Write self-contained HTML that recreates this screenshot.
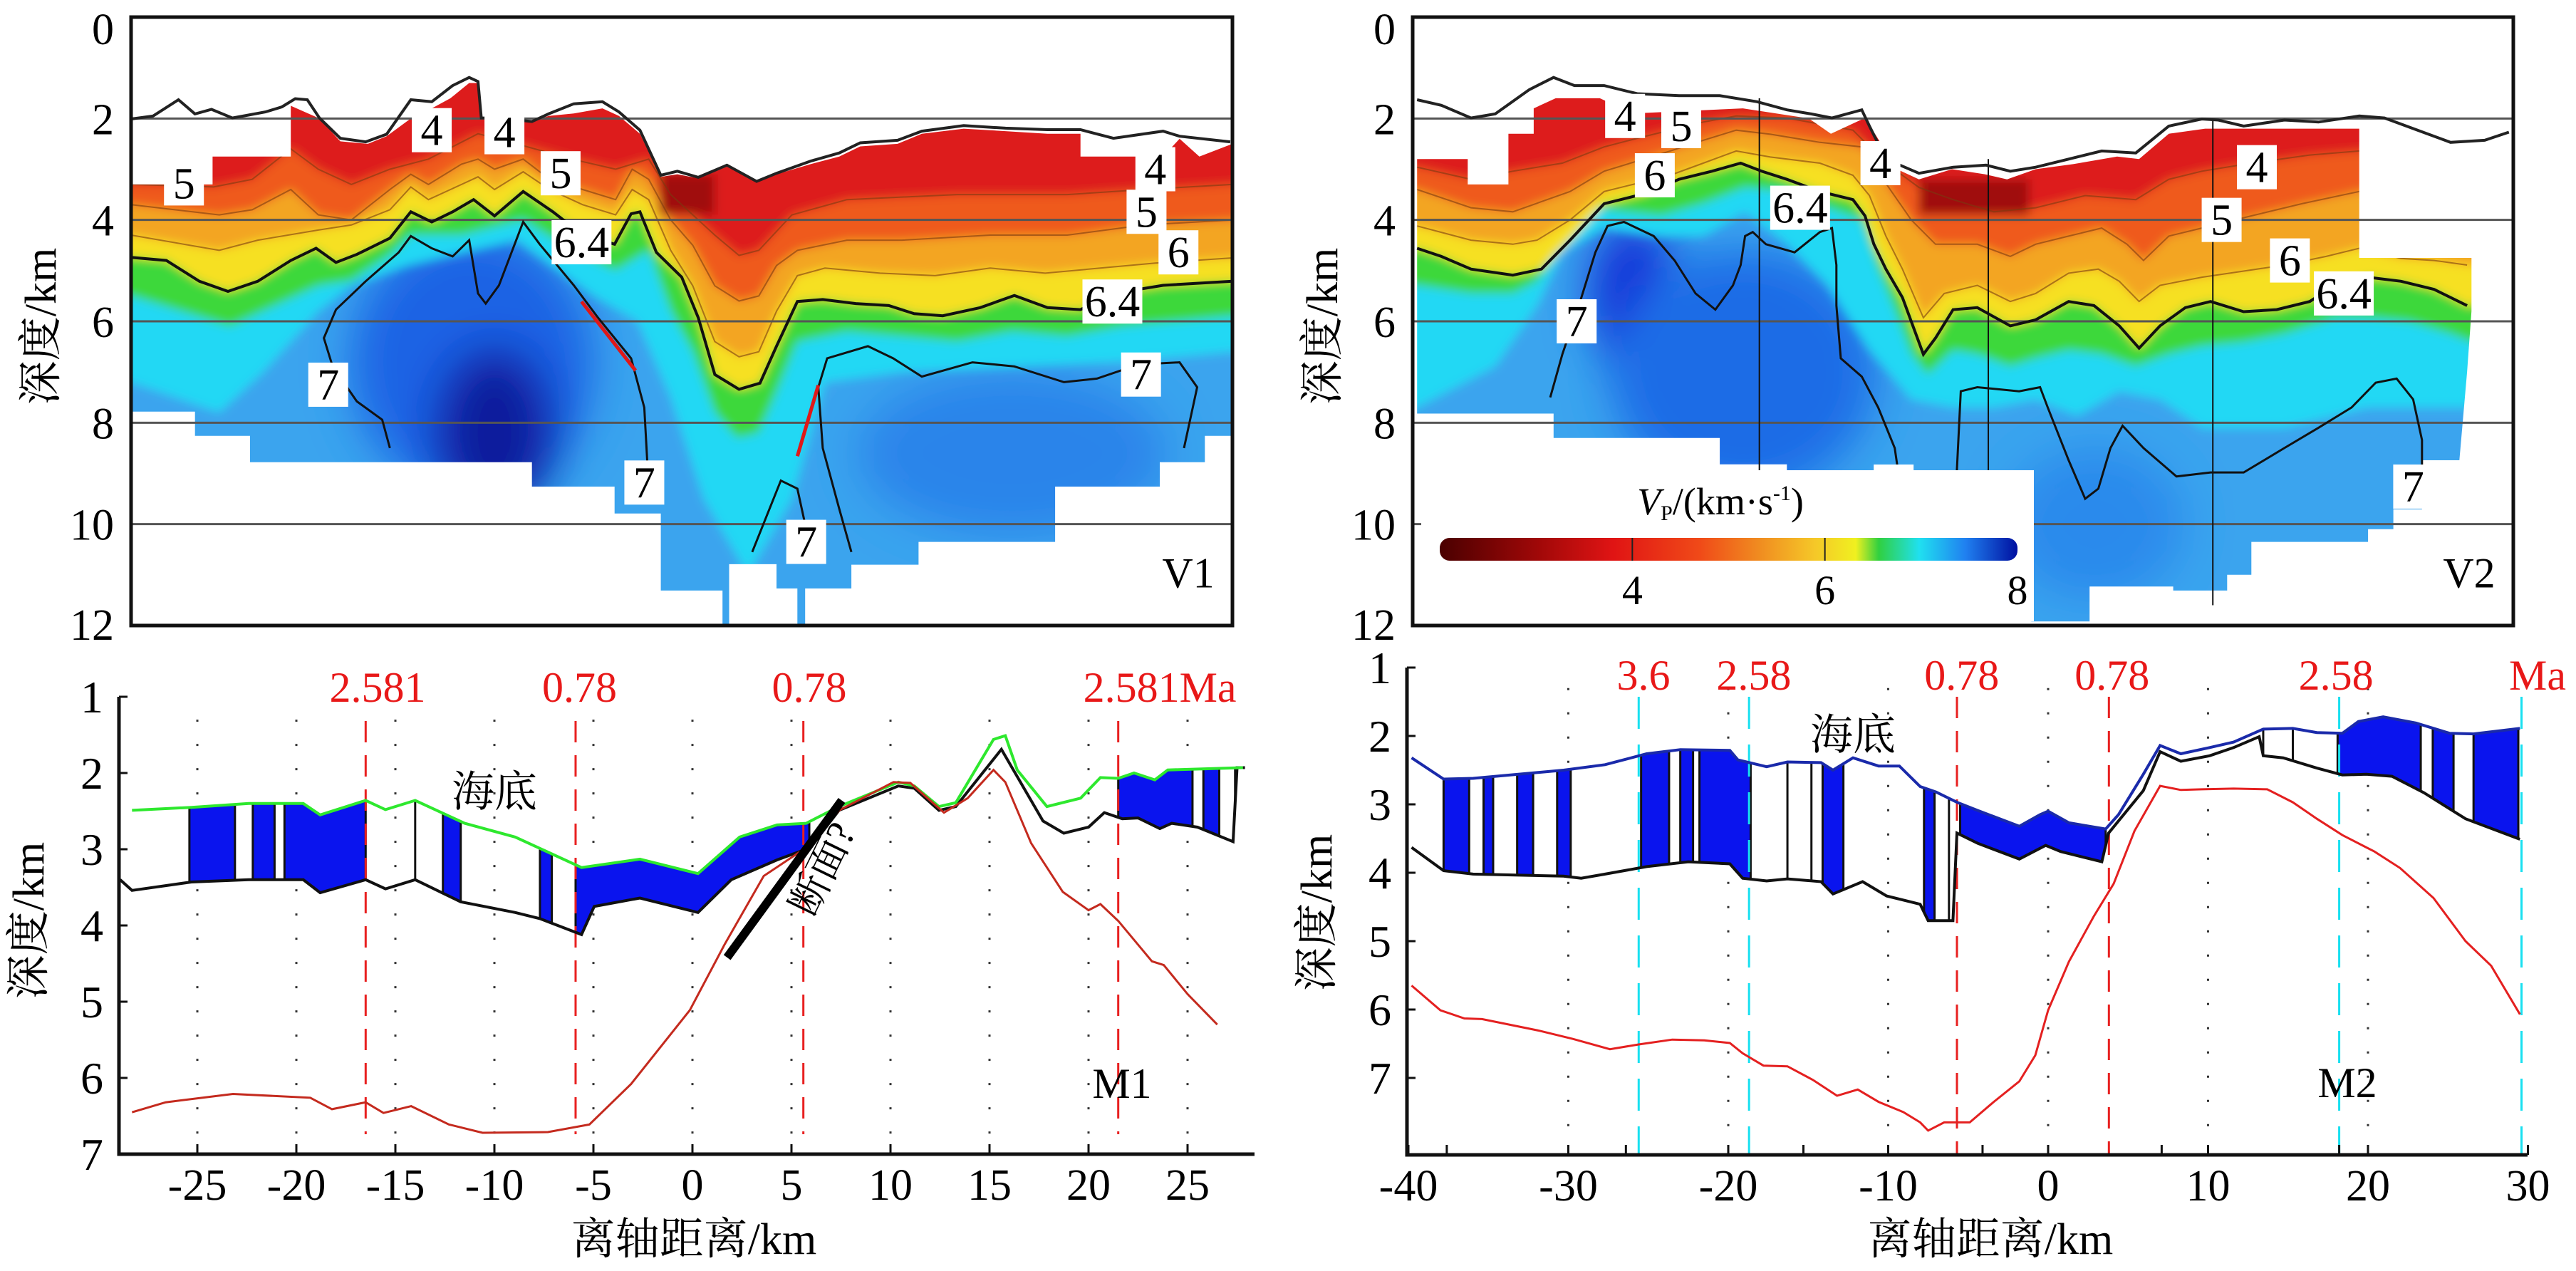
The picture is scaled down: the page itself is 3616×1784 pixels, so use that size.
<!DOCTYPE html>
<html><head><meta charset="utf-8"><style>
html,body{margin:0;padding:0;background:#fff;}
svg{display:block;font-family:"Liberation Serif","Noto Serif CJK SC","Noto Sans CJK SC",serif;}
text{font-family:"Liberation Serif","Noto Serif CJK SC","Noto Sans CJK SC",serif;}
</style></head><body>
<svg id="fig" xmlns="http://www.w3.org/2000/svg" width="3616" height="1784" viewBox="0 0 3616 1784" font-family="Liberation Serif, Noto Serif CJK SC, serif">
<defs>
<linearGradient id="cbar" x1="0" x2="1" y1="0" y2="0">
<stop offset="0" stop-color="#4a0000"/><stop offset="0.17" stop-color="#a00808"/><stop offset="0.3" stop-color="#e01414"/><stop offset="0.45" stop-color="#f04a18"/><stop offset="0.55" stop-color="#f08a20"/><stop offset="0.65" stop-color="#f5c828"/><stop offset="0.72" stop-color="#f0f020"/><stop offset="0.76" stop-color="#30d040"/><stop offset="0.83" stop-color="#20e0f0"/><stop offset="0.91" stop-color="#2080f0"/><stop offset="1" stop-color="#0010a0"/>
</linearGradient>
<filter id="blur" x="-5%" y="-5%" width="110%" height="110%"><feGaussianBlur stdDeviation="7"/></filter>
<filter id="blur2" x="-50%" y="-50%" width="200%" height="200%"><feGaussianBlur stdDeviation="30"/></filter>
</defs>
</svg>
<script>
// ===== V1 data (p = % along profile, d = depth km) =====
const v1FloorP=[0,2,4.3,5.8,7.3,9.2,10.7,12.2,13.7,14.9,16,17.1,19,21.3,23.2,25.4,27.3,29.2,30.7,31.5,31.8,33.4,36.4,37.9,40.2,42.8,44.3,46.2,48.1,49.6,51.5,54.1,56.8,58.6,61.7,64.3,66.2,69.6,71.8,75.6,79.4,83.2,86.2,89.2,93.7,95.2,99.8];
const v1FloorD=[2.01,1.95,1.63,1.91,1.82,1.99,1.93,1.87,1.77,1.61,1.63,1.99,2.39,2.46,2.31,1.63,1.67,1.35,1.19,1.27,1.99,1.99,2.06,1.91,1.71,1.67,1.87,2.23,3.12,3.04,3.16,2.92,3.24,3.08,2.84,2.68,2.48,2.43,2.25,2.14,2.19,2.22,2.22,2.39,2.25,2.35,2.46];
const v1TopP=[0,7.4,7.4,14.5,14.5,17.1,19,21.5,23.2,25.4,27.3,29,30.7,31.5,31.8,33.4,36.4,37.9,40.2,42.8,44.3,46.2,48.1,49.6,51.5,54.1,56.8,58.6,61.7,64.3,66.2,69.6,71.8,75.6,79.4,83.2,86.2,86.2,93.7,95.2,97,100];
const v1TopD=[3.3,3.3,2.75,2.75,1.75,2.0,2.45,2.5,2.35,2.0,1.8,1.6,1.3,1.3,2.0,2.05,2.06,1.95,1.9,1.8,1.95,2.3,3.15,3.1,3.18,2.95,3.25,3.1,2.9,2.75,2.55,2.5,2.3,2.2,2.25,2.3,2.3,2.75,2.75,2.4,2.75,2.5];
const v1BotP=[0,5.8,5.8,10.8,10.8,36.4,36.4,43.9,43.9,48.1,48.1,53.7,53.7,54.3,54.3,58.6,58.6,60.5,60.5,61.2,61.2,65.4,65.4,71.5,71.5,83.9,83.9,93.4,93.4,97.5,97.5,100];
const v1BotD=[7.78,7.78,8.26,8.26,8.78,8.78,9.26,9.26,9.79,9.79,11.31,11.31,12,12,10.79,10.79,11.27,11.27,12,12,11.27,11.27,10.8,10.8,10.35,10.35,9.26,9.26,8.78,8.78,8.26,8.26];
const v1C4P=[0,7.5,11,14.5,17,20,23.5,27,31.5,35,40,44,47,49,53,55.2,57,60,65,75,85,92,100];
const v1C4D=[3.3,3.35,3.2,2.6,3.0,3.3,3.0,2.8,2.3,2.5,2.8,3.0,2.8,3.5,4.3,4.7,4.6,3.9,3.6,3.5,3.5,3.4,3.3];
const v1C5P=[0,8,11,14.5,17,20,23.5,25.4,27,30,31.5,33,35.6,38,41,44,45.5,47,49,51,53,55.2,57,58.6,60.5,65,70,78,85,92,100];
const v1C5D=[3.7,3.9,3.8,3.4,3.9,4.0,3.4,3.1,3.3,2.9,2.8,3.0,2.8,3.2,3.4,3.6,3.0,3.2,4.0,4.5,5.3,5.6,5.5,4.9,4.6,4.4,4.4,4.3,4.3,4.1,4.0];
const v1C6P=[0,8,11.5,17,20,23.5,25.4,27,30,31.5,33,35.6,38,41,44,45.5,47,49,51,53,55.2,57,58.6,60.5,63,68,73,78,83,88,93,100];
const v1C6D=[4.3,4.6,4.4,4.2,4.1,3.8,3.35,3.6,3.3,3.15,3.4,3.05,3.4,3.7,3.9,3.4,3.6,4.6,5.3,6.4,6.7,6.6,5.8,5.1,4.95,5.05,5.1,4.95,5.05,4.95,4.85,4.75];
const v1C64P=[0,3.2,6.2,8.8,11.5,14.5,16.8,18.6,20.5,23.5,25.4,27.3,29.2,31.1,33,35.6,38.3,40.9,43.9,45.4,46.2,47.7,50,51.5,53,55.2,57.1,58.6,60.5,62.8,65.8,68.8,71.1,73.7,77.1,80.2,83.2,86.2,89.2,93.7,100];
const v1C64D=[4.74,4.8,5.21,5.41,5.21,4.8,4.56,4.84,4.68,4.36,3.84,4.04,3.84,3.6,3.92,3.44,3.84,4.28,4.48,3.88,3.84,4.64,5.13,5.93,7.05,7.34,7.22,6.49,5.61,5.57,5.65,5.69,5.85,5.89,5.73,5.49,5.73,5.77,5.45,5.29,5.21];
const v1GP=[0,6,9,12,17,20,23.5,25.4,30,35.6,40,44,47,49,51,53,55,57,58.6,60.5,65,70,75,80,85,90,100];
const v1GD=[5.5,5.9,6.1,5.8,5.3,5.2,4.7,4.3,4.3,4.0,4.6,5.0,4.6,5.8,6.6,7.8,8.3,8.2,7.4,6.4,6.2,6.3,6.4,6.2,6.3,6.1,5.9];
const v1CyP=[0,8,12,17,20,25,35,42,46,49,52,56,60,63,70,80,90,100];
const v1CyD=[7.2,7.8,7.0,5.8,5.3,4.9,4.4,5.5,6.0,7.5,9.5,11,9.5,7.2,7.0,6.9,6.8,6.6];
const v1S7aP=[23.5,22.8,20.5,18.3,17.5,18.6,21.3,24.3,25.4,27.3,29.2,30.7,31.5,32.2,33.4,35.6,37.1,40.2,42.4,45.4,46.6,46.9];
const v1S7aD=[8.5,7.94,7.58,6.89,6.33,5.77,5.21,4.64,4.32,4.56,4.72,4.4,5.45,5.65,5.29,4.04,4.48,5.29,5.93,6.73,7.7,8.9];
const v1S7bP=[56.4,59,60.5,61.7];
const v1S7bD=[10.55,9.14,9.3,10.5];
const v1S7cP=[65.4,64.3,62.8,62.4,63.2,66.9,69.2,71.8,76.4,80.2,84.7,87.7,91.5,95.2,96.8,95.6];
const v1S7cD=[10.55,9.7,8.5,7.3,6.73,6.49,6.73,7.09,6.81,6.89,7.2,7.13,6.85,6.81,7.3,8.5];
const v1LabText=["5","4","4","5","6.4","4","5","6","6.4","7","7","7","7"];
const v1LabP=[4.8,27.3,33.9,39,40.9,93,92.2,95.1,89.1,91.7,17.9,46.6,61.3];
const v1LabD=[3.28,2.23,2.27,3.08,4.44,3.0,3.84,4.64,5.61,7.05,7.25,9.18,10.35];

// ===== V2 data =====
const v2FloorP=[0.4,2.6,5.3,7.5,10.6,12.8,14.7,17.4,20.4,24.2,27.9,31.3,34,36.2,38.1,40.8,41.5,43,46,49.1,52.1,54.3,56.6,59.6,62.6,65.7,68.7,71.7,73.2,75.5,79.2,82.3,86,88.3,91.3,94.3,97.4,99.6];
const v2FloorD=[1.63,1.74,1.99,1.91,1.43,1.19,1.35,1.35,1.51,1.55,1.55,1.67,1.83,1.91,1.99,1.83,2.15,2.8,3.08,2.96,2.92,3.04,2.96,2.8,2.64,2.68,2.15,2.01,2.03,2.15,2.03,2.07,1.95,1.99,2.23,2.47,2.43,2.27];
const v2TopP=[0.4,5,5,8.7,8.7,11,11,13,17,20,30,36,38,41,42,44,46,49,52,54,56.6,60,64,66,68.7,72,80,86,86,95.8];
const v2TopD=[2.8,2.8,3.3,3.3,2.3,2.3,1.8,1.6,1.6,1.9,1.8,2.0,2.3,2.0,2.3,3.0,3.2,3.0,3.1,3.2,3.0,2.9,2.75,2.8,2.3,2.2,2.2,2.2,4.75,4.75];
const v2BotP=[0.4,12.8,12.8,27.9,27.9,34,34,46,46,56.2,56.2,61.5,61.5,69.1,69.1,74,74,76.2,76.2,86.8,86.8,89.1,89.1,91.7,91.7,95.1,95.8,96.2,96.2];
const v2BotD=[7.82,7.82,8.3,8.3,8.82,8.82,9.02,9.02,9.18,9.18,11.92,11.92,11.23,11.23,11.31,11.31,11.0,11.0,10.35,10.35,10.1,10.1,9.71,9.71,8.74,8.74,7.0,5.8,4.75];
const v2C4P=[0.4,5.3,9.1,13.6,17.4,20.4,23.4,26.4,29.4,34,40,43,46,49.1,52.8,56.6,61.1,65.7,68.7,71.7,76.2,81.5,86,96];
const v2C4D=[2.96,3.2,3.04,2.88,2.56,2.39,2.23,2.07,1.95,1.99,2.23,2.88,3.36,3.6,3.84,3.76,3.52,3.6,3.2,3.04,2.88,2.72,2.64,2.6];
const v2C5P=[0.4,5.3,9.1,14.3,17.4,20.4,23.4,26.4,29.4,32.5,37,40.8,43,45.3,47.5,51.3,54.3,56.6,59.6,62.6,64.9,66.4,68.7,71.7,76.2,80.8,86,96];
const v2C5D=[3.4,3.76,3.84,3.44,3.04,2.84,2.64,2.43,2.23,2.31,2.47,2.56,3.28,4.0,4.48,4.48,4.72,4.48,4.32,4.16,4.48,4.8,4.32,4.16,3.92,3.68,3.44,3.4];
const v2C6P=[0.4,5.3,9.1,11.3,14.3,17.4,20.4,23.4,26.4,29.4,32.5,37,40,41.5,43,44.5,46.4,48.3,51.3,54.3,56.6,59.6,62.3,64.2,66,67.9,71.7,75.5,79.2,83,86,89.8,92.8,95.8];
const v2C6D=[4.12,4.4,4.48,4.4,4.0,3.44,3.28,3.12,2.88,2.64,2.76,2.88,3.12,3.52,4.32,4.97,5.93,5.45,5.29,5.61,5.45,5.05,4.97,5.21,5.61,5.29,5.13,5.01,4.89,4.72,4.56,4.76,4.8,4.89];
const v2C64P=[0.4,2.6,5.3,9.1,11.7,14.3,17.4,18.9,21.1,24.2,27.2,29.8,31.7,34,37,40,41.1,41.9,43,44.5,46.4,47.5,49.1,51.3,54.3,56.6,59.6,61.9,64.2,66,67.9,70.2,72.5,75.5,78.5,81.5,83.8,86.8,89.8,92.8,95.8];
const v2C64D=[4.56,4.72,4.97,5.09,4.97,4.4,3.68,3.6,3.48,3.2,3.04,2.88,3.04,3.2,3.44,3.6,3.92,4.48,4.97,5.53,6.65,6.33,5.77,5.73,6.09,5.97,5.61,5.69,6.09,6.53,6.09,5.73,5.61,5.81,5.77,5.61,5.29,5.13,5.21,5.37,5.69];
const v2GP=[0.4,5.3,9.1,11.3,13.6,16.6,18.9,22.6,26.4,30.2,34,37.7,40.8,42.3,43.8,45.3,46.8,49.1,51.3,54.3,56.6,59.6,62.6,65.7,68.7,71.7,75.5,79.2,83.8,86.8,90.6,94.3,96.2];
const v2GD=[5.29,5.45,5.45,5.21,4.48,3.76,3.84,3.92,3.68,3.36,3.44,3.76,4.0,4.97,5.77,6.65,7.05,6.57,6.65,6.89,6.73,6.57,6.65,6.89,6.65,6.49,6.41,6.25,5.93,5.93,6.01,6.25,6.41];
const v2CyP=[0.4,7.5,11.3,13.6,17.4,22.6,26.4,30.2,34,37.7,41.5,45.3,49.1,52.8,56.6,60.4,64.2,67.9,71.7,79.2,86.8,94.3,96.2];
const v2CyD=[7.7,6.89,5.69,4.64,4.16,4.32,4.32,3.84,4.48,5.29,6.57,7.54,7.7,7.7,7.54,7.86,7.38,7.54,8.1,8.1,7.7,7.7,7.7];
const v2S7aP=[12.5,13.6,15.1,16.6,17.7,19.2,21.9,23.8,25.7,27.5,29.1,29.8,30.2,30.9,32.1,34.7,37,38.1,38.5,38.5,38.9,40.8,42.3,43.8,44.2];
const v2S7aD=[7.5,6.65,5.69,4.64,4.12,4.04,4.32,4.8,5.45,5.77,5.29,4.89,4.32,4.24,4.48,4.64,4.24,4.16,4.89,5.69,6.73,7.09,7.7,8.5,9.1];
const v2S7bP=[49.4,49.8,51.3,55.1,57,57.7,59.6,61.1,62.3,63.4,64.5,66.4,69.4,72.5,75.5,79.2,82.3,85.3,87.5,89.4,90.9,91.7,91.7];
const v2S7bD=[9.14,7.38,7.3,7.38,7.3,7.7,8.74,9.5,9.3,8.5,8.06,8.5,9.06,8.98,8.98,8.5,8.1,7.7,7.21,7.13,7.54,8.34,9.54];
const v2LabText=["4","5","6","6.4","4","4","5","6","6.4","7","7","7"];
const v2LabP=[19.3,24.4,22,35.2,42.5,76.7,73.5,79.7,84.6,14.9,43.7,90.9];
const v2LabD=[1.95,2.15,3.12,3.76,2.88,2.96,4.0,4.8,5.45,6.0,9.26,9.26];
const v2CrossP=[31.5,52.3,72.7];
const v2CrossTop=[1.6,2.8,2.0];
const v2CrossBot=[9.1,9.2,11.6];
const cbarTicks=[4,6,8];

// ===== M1 data (km, depth km) =====
const m1FloorX=[-28.3,-25.3,-22.4,-19.65,-18.8,-16.5,-15.5,-14,-11.5,-8.95,-5.6,-2.65,0.28,2.38,4.27,5.74,7.4,10.4,11.2,12.45,13.3,15.2,15.8,16.4,17.9,19.6,20.6,21.5,22.3,23.35,24,27.8];
const m1FloorD=[2.49,2.45,2.4,2.4,2.55,2.36,2.48,2.36,2.66,2.84,3.24,3.13,3.32,2.84,2.68,2.66,2.44,2.12,2.17,2.44,2.39,1.56,1.51,1.96,2.44,2.33,2.06,2.07,2.0,2.09,1.96,1.93];
const m1BaseX=[-28.9,-28.3,-25.3,-22.4,-19.65,-18.8,-16.5,-15.5,-14,-11.7,-8.95,-7.7,-5.6,-4.96,-2.65,0.28,1.96,4.27,5.94,7.4,10.4,11.2,12.45,13.3,15.6,17.7,18.75,20,20.8,21.7,22.5,23.6,24.2,25.5,27.3,27.5,27.9];
const m1BaseD=[3.4,3.54,3.43,3.4,3.4,3.57,3.4,3.52,3.4,3.69,3.83,3.91,4.12,3.75,3.64,3.83,3.4,3.14,2.98,2.49,2.17,2.2,2.49,2.44,1.69,2.63,2.79,2.71,2.52,2.6,2.59,2.73,2.66,2.71,2.9,1.93,1.93];
const m1MohoX=[-28.3,-26.6,-23.2,-19.3,-18.2,-16.5,-15.6,-14.2,-12.3,-10.6,-7.3,-5.2,-3.1,-0.13,1.6,3.6,5.74,7.4,10.15,11,12.7,13.9,15.2,15.8,17.1,18.7,20,20.6,21.5,23.2,23.8,25,26.5];
const m1MohoD=[6.45,6.32,6.21,6.26,6.41,6.32,6.46,6.37,6.61,6.72,6.71,6.61,6.08,5.11,4.26,3.35,2.98,2.49,2.12,2.13,2.52,2.33,1.96,2.12,2.92,3.56,3.8,3.72,3.94,4.47,4.52,4.9,5.3];
const m1BlueA=[-25.4,-22.2,-20.6,-12.6,-7.7,-5.9,21.5,25.8,27.4];
const m1BlueB=[-23.1,-21.1,-16.5,-11.7,-7.1,5.9,25.25,26.6,27.9];
const m1WhiteEdges=[-14.0];
const m1AgeX=[-16.5,-5.9,5.6,21.5];
const m1AgeLab=["2.581","0.78","0.78","2.581Ma"];
const m1AgeLabX=[-15.9,-5.7,5.9,23.6];
const m1XTicks=[-25,-20,-15,-10,-5,0,5,10,15,20,25];
const m1YTicks=[1,2,3,4,5,6,7];
const m1Fault=[[1.75,4.42],[7.54,2.36]];

// ===== M2 data =====
const m2FloorX=[-39.8,-37.8,-35.95,-30.3,-27.7,-25.1,-23,-19.9,-19.4,-17.6,-16.3,-14.2,-13.45,-12.2,-10.6,-9.3,-8,-7,-5.7,-4.4,-1.8,-0.5,0,1.3,3.6,4.4,5.95,7,8.3,10.1,11.6,13.45,15.3,16.8,18.4,19.4,20.95,23,25.1,26.6,29.5];
const m2FloorD=[2.32,2.63,2.62,2.5,2.42,2.26,2.2,2.21,2.35,2.45,2.38,2.39,2.5,2.32,2.44,2.44,2.74,2.82,2.97,3.09,3.32,3.15,3.1,3.27,3.36,3.15,2.56,2.14,2.26,2.17,2.09,1.9,1.89,1.95,1.96,1.79,1.72,1.81,1.96,1.97,1.89];
const m2BaseX=[-39.8,-37.8,-35.95,-30.3,-29.2,-27.7,-25.1,-22.5,-19.9,-19.1,-17.6,-16.3,-14.2,-13.45,-11.6,-10.1,-8,-7.5,-5.95,-5.7,-4.4,-1.8,-0.15,0.78,3.36,3.78,5.95,7,8.3,10.1,11.6,13.2,13.45,14.7,16.8,18.4,19.9,21.5,23.5,26.1,29.5];
const m2BaseD=[3.63,3.97,4.02,4.05,4.08,4.02,3.91,3.84,3.87,4.08,4.12,4.09,4.13,4.31,4.13,4.34,4.46,4.7,4.7,3.42,3.57,3.8,3.6,3.69,3.84,3.42,2.8,2.23,2.37,2.29,2.17,2.01,2.29,2.32,2.47,2.57,2.56,2.59,2.83,3.21,3.51];
const m2MohoX=[-39.8,-38,-36.5,-35.4,-31.8,-29.7,-27.4,-25.6,-23.5,-21.5,-19.9,-19.1,-17.8,-16.3,-14.7,-13.2,-11.9,-10.6,-9.05,-8,-7.5,-6.5,-4.9,-3.4,-1.8,-0.8,0,1.3,2.85,4.1,5.4,7,8.3,9.6,11.6,13.7,15.3,16.8,18.4,19.9,20.4,22,24.1,26.1,27.7,29.5];
const m2MohoD=[5.65,6.01,6.13,6.14,6.31,6.43,6.58,6.51,6.44,6.45,6.49,6.64,6.82,6.83,7.03,7.26,7.17,7.35,7.5,7.65,7.77,7.65,7.65,7.35,7.05,6.67,6.01,5.3,4.64,4.16,3.39,2.73,2.79,2.78,2.77,2.78,2.97,3.21,3.45,3.63,3.69,3.93,4.37,5.0,5.36,6.07];
const m2BlueA=[-37.8,-35.3,-33.2,-30.7,-25.45,-23,-21.8,-14.1,-7.76,-5.5,18.1,24.05,26.6];
const m2BlueB=[-36.2,-34.7,-32.2,-29.85,-23.7,-22.2,-18.6,-12.8,-7.1,3.6,23.3,25.35,29.4];
const m2EdgeX=[-16.3,-14.8,-6.2,15.3,13.45];
const m2AgeX=[-25.6,-18.7,-5.7,3.8,18.2,29.6];
const m2AgeCol=["cyan","cyan","red","red","cyan","cyan"];
const m2AgeLab=["3.6","2.58","0.78","0.78","2.58","Ma"];
const m2AgeLabX=[-25.3,-18.4,-5.4,4.0,18.0,30.6];
const m2XTicks=[-40,-30,-20,-10,0,10,20,30];
const m2MinorTicks=[-37.6,-26.4,-15.3,-4.1,7.1,18.2];
const m2YTicks=[1,2,3,4,5,6,7];

// ===== helpers =====
const NS="http://www.w3.org/2000/svg";
const FONT='Liberation Serif, Noto Serif CJK SC, serif';
const svg=document.getElementById('fig');
function mk(tag,attrs,parent){const e=document.createElementNS(NS,tag);for(const k in attrs)e.setAttribute(k,attrs[k]);if(tag==='text')e.setAttribute('font-family',FONT);(parent||svg).appendChild(e);return e;}
function interp(xs,ys,x){if(x<=xs[0])return ys[0];for(let i=1;i<xs.length;i++){if(x<=xs[i]){const t=(x-xs[i-1])/((xs[i]-xs[i-1])||1);return ys[i-1]+t*(ys[i]-ys[i-1]);}}return ys[ys.length-1];}
function pts(xs,ys,fx,fy){return xs.map((x,i)=>fx(x).toFixed(1)+','+fy(ys[i]).toFixed(1)).join(' ');}

// ===== tomography panel =====
function tomo(o){
  const X0=o.x0,X1=o.x1,Y0=24,Y1=878;
  const px=p=>X0+p*(X1-X0)/100, py=d=>Y0+d*(Y1-Y0)/12;
  const g=mk('g',{});
  
  
  const cid=o.name+'-clip';
  const cp=mk('clipPath',{id:cid},g);
  const maskPts=pts(o.topP,o.topD,px,py)+' '+pts(o.botP.slice().reverse(),o.botD.slice().reverse(),px,py);
  mk('polygon',{points:maskPts},cp);
  const outer=mk('g',{'clip-path':'url(#'+cid+')'},g);
  
  
  const inner=mk('g',{filter:'url(#blur)'},outer);
  mk('rect',{x:X0-20,y:Y0-20,width:X1-X0+40,height:Y1-Y0+40,fill:'#3aa4ee'},inner);
  o.blobs.forEach(b=>{mk('ellipse',{cx:px(b[0]),cy:py(b[1]),rx:b[2]*(X1-X0)/100,ry:b[3]*(Y1-Y0)/12,fill:b[4],filter:'url(#blur2)'},inner);});
  const layers=[[o.cyP,o.cyD,'#22d8f4'],[o.gP,o.gD,'#3cd83a'],[o.c64P,o.c64D,'#f6e024'],[o.c6P,o.c6D,'#f3a524'],[o.c5P,o.c5D,'#ef5a1c'],[o.c4P,o.c4D,'#dd1c1c']];
  layers.forEach(L=>{
    const xs=[L[0][0]-5].concat(L[0],[L[0][L[0].length-1]+5]);
    const ys=[L[1][0]].concat(L[1],[L[1][L[1].length-1]]);
    const poly=pts(xs,ys,px,py)+' '+px(xs[xs.length-1])+','+(Y0-30)+' '+px(xs[0])+','+(Y0-30);
    mk('polygon',{points:poly,fill:L[2]},inner);
  });
  if(o.dark) mk('rect',{x:px(o.dark[0]),y:py(o.dark[1]),width:(o.dark[2]-o.dark[0])*(X1-X0)/100,height:(o.dark[3]-o.dark[1])*(Y1-Y0)/12,fill:'#a00c0c'},inner);
  [[o.c4P,o.c4D],[o.c5P,o.c5D],[o.c6P,o.c6D]].forEach(L=>{mk('polyline',{points:pts(L[0],L[1],px,py),fill:'none',stroke:'#7a3a10',"stroke-width":2,opacity:0.6},outer);});
  [2,4,6,8,10].forEach(d=>{const l=mk('line',{x1:X0,x2:X1,y1:py(d),y2:py(d),stroke:'#555',"stroke-width":3},g);
    
    });
  if(o.crossP) o.crossP.forEach((p,i)=>{mk('line',{x1:px(p),x2:px(p),y1:py(o.crossTop[i]),y2:py(o.crossBot[i]),stroke:'#111',"stroke-width":2},g);});
  const c64=mk('polyline',{points:pts(o.c64P,o.c64D,px,py),fill:'none',stroke:'#111',"stroke-width":4},g);
  
  
  o.s7.forEach(s=>{const l=mk('polyline',{points:pts(s[0],s[1],px,py),fill:'none',stroke:'#111',"stroke-width":3},g);
    
    });
  if(o.faults) o.faults.forEach(f=>{mk('line',{x1:px(f[0]),y1:py(f[1]),x2:px(f[2]),y2:py(f[3]),stroke:'#e01818',"stroke-width":5},g);});
  const sf=mk('polyline',{points:pts(o.floorP,o.floorD,px,py),fill:'none',stroke:'#222',"stroke-width":4},g);
  
  
  const fr=mk('rect',{x:X0,y:Y0,width:X1-X0,height:Y1-Y0,fill:'none',stroke:'#111',"stroke-width":5},g);
  
  
  o.labT.forEach((t,i)=>{
    const w=t.length>1?84:56,h=62,cx=px(o.labP[i]),cy=py(o.labD[i]);
    const r=mk('rect',{x:cx-w/2,y:cy-h/2,width:w,height:h,fill:'#fff'},g);
    
    
    const tx=mk('text',{x:cx,y:cy+21,"text-anchor":"middle","font-size":62,fill:'#000'},g);
    tx.textContent=t;
    
    
  });
  const pl=mk('text',{x:o.x1-62,y:py(11.25),"text-anchor":"middle","font-size":60,fill:'#000'},g);
  pl.textContent=o.title;
  
  
  [0,2,4,6,8,10,12].forEach(d=>{const t=mk('text',{x:X0-24,y:py(d)+(d===0?38:d===12?20:22),"text-anchor":"end","font-size":62},g);t.textContent=d;
    
    });
  const yt=mk('text',{x:0,y:0,"text-anchor":"middle","font-size":62,transform:`translate(${X0-106},458) rotate(-90)`},g);
  yt.textContent='深度/km';
  
  
  return {px,py,g};
}

tomo({name:'v1',x0:184,x1:1730,title:'V1',floorP:v1FloorP,floorD:v1FloorD,topP:v1TopP,topD:v1TopD,botP:v1BotP,botD:v1BotD,
 c4P:v1C4P,c4D:v1C4D,c5P:v1C5P,c5D:v1C5D,c6P:v1C6P,c6D:v1C6D,c64P:v1C64P,c64D:v1C64D,gP:v1GP,gD:v1GD,cyP:v1CyP,cyD:v1CyD,
 s7:[[v1S7aP,v1S7aD],[v1S7bP,v1S7bD],[v1S7cP,v1S7cD]],labT:v1LabText,labP:v1LabP,labD:v1LabD,
 blobs:[[31,6.8,11,2.6,'#1c64e4'],[33,8.2,5,1.6,'#0c1c9c'],[80,8.6,14,1.6,'#2a84ea']],dark:[48,3.1,53,3.9],
 faults:[[40.9,5.61,45.8,6.97],[62.4,7.26,60.5,8.66]]});

tomo({name:'v2',x0:1983,x1:3528,title:'V2',floorP:v2FloorP,floorD:v2FloorD,topP:v2TopP,topD:v2TopD,botP:v2BotP,botD:v2BotD,
 c4P:v2C4P,c4D:v2C4D,c5P:v2C5P,c5D:v2C5D,c6P:v2C6P,c6D:v2C6D,c64P:v2C64P,c64D:v2C64D,gP:v2GP,gD:v2GD,cyP:v2CyP,cyD:v2CyD,
 s7:[[v2S7aP,v2S7aD],[v2S7bP,v2S7bD]],labT:v2LabText,labP:v2LabP,labD:v2LabD,crossP:v2CrossP,crossTop:v2CrossTop,crossBot:v2CrossBot,
 blobs:[[20,5.4,4,1.4,'#1436d8'],[30,7,12,2.4,'#1e6ce6'],[62,10,8,1.5,'#2a8aec']],dark:[46,3.2,56,3.9]});

// colorbar
(function(){
  const cx0=2021,cx1=2832,cy=755,ch=32;
  const cv=v=>cx0+(v-2)*(cx1-cx0)/6;
  const bg=mk('rect',{x:1995,y:660,width:860,height:212,fill:'#fff'});
  
  
  const cb=mk('rect',{x:cx0,y:cy,width:cx1-cx0,height:ch,fill:'url(#cbar)',rx:14});
  
  
  [4,6].forEach(v=>mk('line',{x1:cv(v),x2:cv(v),y1:cy,y2:cy+ch,stroke:'#222',"stroke-width":2}));
  cbarTicks.forEach(v=>{const t=mk('text',{x:cv(v),y:848,"text-anchor":"middle","font-size":58});t.textContent=v;
    
    });
  const t=mk('text',{x:2415,y:722,"text-anchor":"middle","font-size":54});
  t.innerHTML='<tspan font-style="italic">V</tspan><tspan font-size="30" dy="8">P</tspan><tspan dy="-8">/(km·s</tspan><tspan font-size="30" dy="-20">-1</tspan><tspan dy="20">)</tspan>';
  
  
})();

// ===== profile panels =====
function profile(o){
  const xm=k=>o.xc+o.kx*k, ym=d=>o.y1+o.ky*(d-1);
  const g=mk('g',{});
  
  
  const yb=ym(7)+(o.bottomPad||0);
  o.dots.forEach(k=>{mk('line',{x1:xm(k),x2:xm(k),y1:ym(1.3),y2:yb-5,stroke:'#333',"stroke-width":3,"stroke-dasharray":"3 31"},g);});
  o.blueA.forEach((a,i)=>{const b=o.blueB[i];
    const xs=[a];o.fx.forEach(x=>{if(x>a&&x<b)xs.push(x);});o.bx.forEach(x=>{if(x>a&&x<b)xs.push(x);});xs.push(b);xs.sort((p,q)=>p-q);
    const top=xs.map(x=>xm(x).toFixed(1)+','+ym(interp(o.fx,o.fd,x)).toFixed(1));
    const bot=xs.slice().reverse().map(x=>xm(x).toFixed(1)+','+ym(interp(o.bx,o.bd,x)).toFixed(1));
    const pg=mk('polygon',{points:top.concat(bot).join(' '),fill:'#0a14ee'},g);
    
    
    [a,b].forEach(x=>mk('line',{x1:xm(x),x2:xm(x),y1:ym(interp(o.fx,o.fd,x)),y2:ym(interp(o.bx,o.bd,x)),stroke:'#111',"stroke-width":3},g));
  });
  o.edges.forEach(x=>mk('line',{x1:xm(x),x2:xm(x),y1:ym(interp(o.fx,o.fd,x)),y2:ym(interp(o.bx,o.bd,x)),stroke:'#111',"stroke-width":3},g));
  o.ageX.forEach((k,i)=>{const col=o.ageCol?o.ageCol[i]:'red';
    const c=col==='red'?'#e82020':'#18e0f0';
    const l=mk('line',{x1:xm(k),x2:xm(k),y1:o.ageTop,y2:o.ageBot,stroke:c,"stroke-width":3,"stroke-dasharray":col==='red'?"30 18":"45 22"},g);
    
    
    const t=mk('text',{x:xm(o.ageLabX[i]),y:o.ageLabY,"text-anchor":"middle","font-size":60,fill:'#e81818'},g);t.textContent=o.ageLab[i];
    
    });
  const base=mk('polyline',{points:pts(o.bx,o.bd,xm,ym),fill:'none',stroke:'#111',"stroke-width":4},g);
  
  
  const fl=mk('polyline',{points:pts(o.fx,o.fd,xm,ym),fill:'none',stroke:o.floorCol,"stroke-width":4},g);
  
  
  const mo=mk('polyline',{points:pts(o.mx,o.md,xm,ym),fill:'none',stroke:o.mohoCol,"stroke-width":3},g);
  
  
  const ax=mk('polyline',{points:`${o.axL},${o.axTop} ${o.axL},${yb} ${o.axR},${yb}`,fill:'none',stroke:'#111',"stroke-width":5},g);
  
  
  o.xt.forEach(k=>{mk('line',{x1:xm(k),x2:xm(k),y1:yb,y2:yb-14,stroke:'#111',"stroke-width":3},g);
    const t=mk('text',{x:xm(k),y:yb+64,"text-anchor":"middle","font-size":62},g);t.textContent=k;
    
    });
  (o.minor||[]).forEach(k=>mk('line',{x1:xm(k),x2:xm(k),y1:yb,y2:yb-14,stroke:'#111',"stroke-width":3},g));
  o.yt.forEach(d=>{mk('line',{x1:o.axL,x2:o.axL+12,y1:ym(d),y2:ym(d),stroke:'#111',"stroke-width":3},g);
    const t=mk('text',{x:o.axL-22,y:ym(d)+22,"text-anchor":"end","font-size":64},g);t.textContent=d;
    
    });
  const xt=mk('text',{x:o.titleX,y:1760,"text-anchor":"middle","font-size":62},g);xt.textContent='离轴距离/km';
  
  
  const yt=mk('text',{x:0,y:0,"text-anchor":"middle","font-size":62,transform:`translate(${o.axL-106},${o.yTitleY}) rotate(-90)`},g);yt.textContent='深度/km';
  
  
  const sb=mk('text',{x:o.hdX,y:o.hdY,"text-anchor":"middle","font-size":60},g);sb.textContent='海底';
  
  
  const pl=mk('text',{x:o.plX,y:o.plY,"text-anchor":"middle","font-size":60},g);pl.textContent=o.title;
  
  
  return {xm,ym,g};
}

const M1=profile({name:'m1',xc:972,kx:27.8,y1:978,ky:107,dots:[-25,-20,-15,-10,-5,0,5,10,15,20,25],
 blueA:m1BlueA,blueB:m1BlueB,edges:m1WhiteEdges,fx:m1FloorX,fd:m1FloorD,bx:m1BaseX,bd:m1BaseD,mx:m1MohoX,md:m1MohoD,
 floorCol:'#2ee82e',mohoCol:'#c42a1e',ageX:m1AgeX,ageLab:m1AgeLab,ageLabX:m1AgeLabX,ageLabY:985,ageTop:1012,ageBot:1592,
 axL:167,axR:1761,axTop:978,xt:m1XTicks,yt:m1YTicks,titleX:974,yTitleY:1292,hdX:694,hdY:1132,plX:1575,plY:1541,title:'M1'});
(function(){const f=m1Fault;
  const l=mk('line',{x1:M1.xm(f[0][0]),y1:M1.ym(f[0][1]),x2:M1.xm(f[1][0]),y2:M1.ym(f[1][1]),stroke:'#000',"stroke-width":12},M1.g);
  
  
  const t=mk('text',{x:0,y:0,"text-anchor":"middle","font-size":56,transform:'translate(1172,1228) rotate(-64)'},M1.g);t.textContent='断面?';
  
  
})();

profile({name:'m2',xc:2875,kx:22.45,y1:937,ky:96,dots:[-30,-20,-10,0,10,20],
 blueA:m2BlueA,blueB:m2BlueB,edges:m2EdgeX,fx:m2FloorX,fd:m2FloorD,bx:m2BaseX,bd:m2BaseD,mx:m2MohoX,md:m2MohoD,
 floorCol:'#1a2aaa',mohoCol:'#e42020',ageX:m2AgeX,ageCol:m2AgeCol,ageLab:m2AgeLab,ageLabX:m2AgeLabX,ageLabY:968,ageTop:978,ageBot:1620,
 axL:1975,axR:3548,axTop:937,xt:m2XTicks,minor:m2MinorTicks,yt:m2YTicks,titleX:2794,yTitleY:1281,hdX:2601,hdY:1052,plX:3295,plY:1540,title:'M2',bottomPad:108});
</script>
</body></html>
